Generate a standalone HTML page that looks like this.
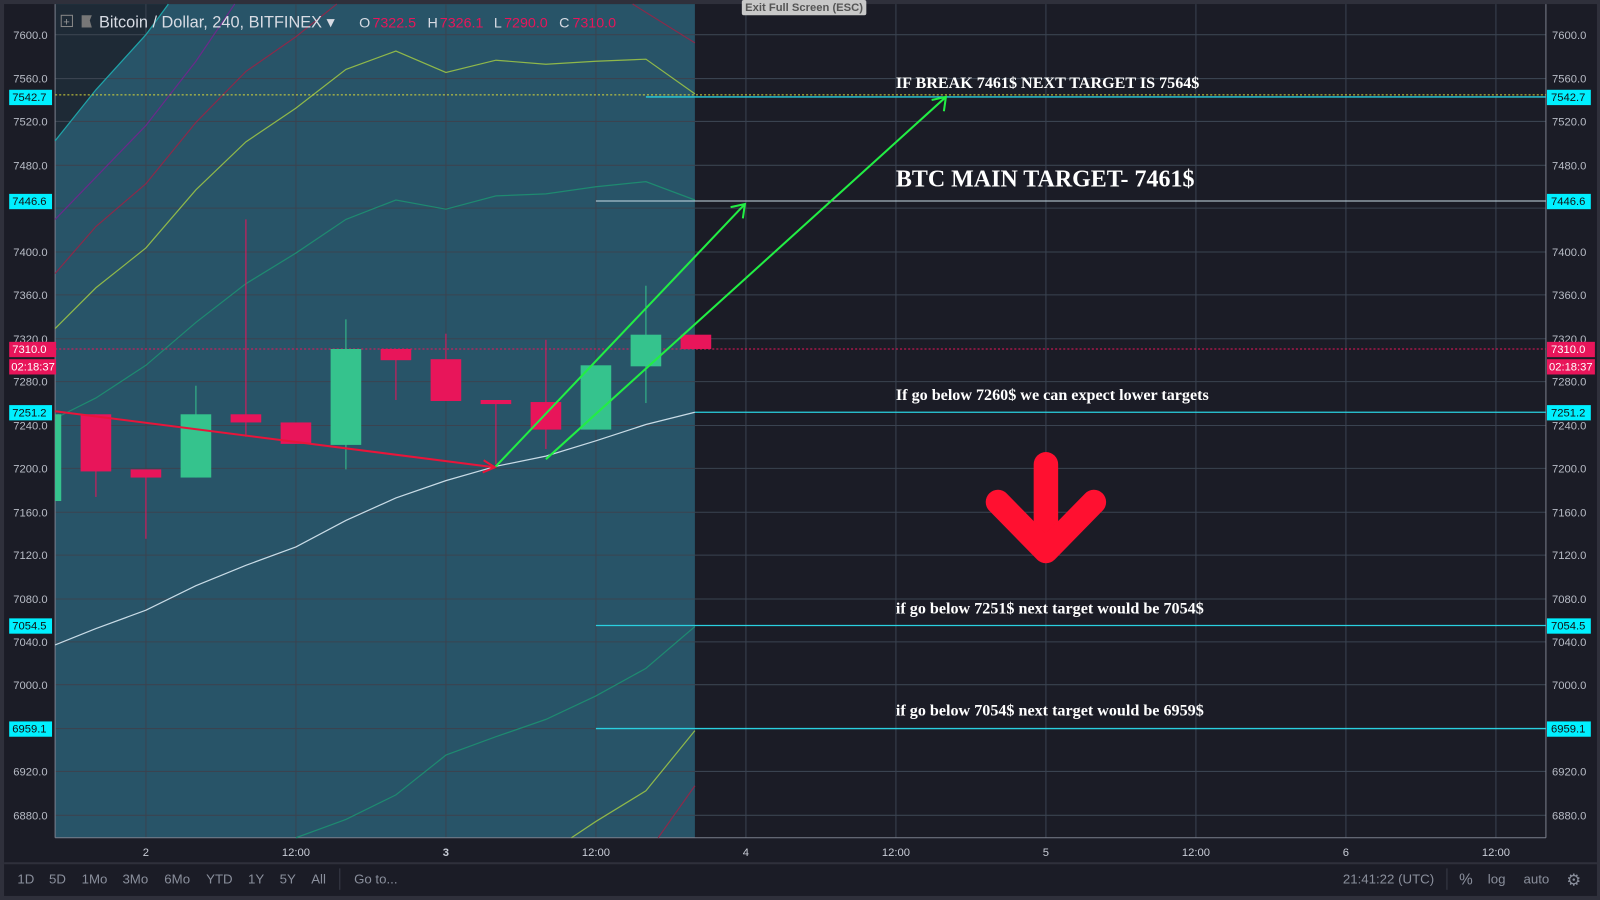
<!DOCTYPE html>
<html><head><style>
html,body{margin:0;padding:0;background:#2a2b36;width:1600px;height:900px;overflow:hidden}
svg{display:block}
text{font-family:"Liberation Sans",sans-serif}
.s{font-family:"Liberation Serif",serif;font-weight:bold;fill:#fff}
</style></head><body>
<svg width="1600" height="900" viewBox="0 0 1568 882" preserveAspectRatio="none" xmlns="http://www.w3.org/2000/svg">
<rect x="0" y="0" width="1568" height="882" fill="#2f303b"/>
<rect x="4" y="4" width="1561" height="874" fill="#1b1c26"/>
<rect x="54" y="4" width="627" height="817" fill="#285468"/>
<polygon points="54,138 94,88 143,34 165,4 54,4" fill="#1e2a36"/>
<g stroke="#3a4350" stroke-width="1">
<line x1="54" x2="1515" y1="34" y2="34"/><line x1="54" x2="1515" y1="77" y2="77"/><line x1="54" x2="1515" y1="119" y2="119"/><line x1="54" x2="1515" y1="162" y2="162"/><line x1="54" x2="1515" y1="204" y2="204"/><line x1="54" x2="1515" y1="247" y2="247"/><line x1="54" x2="1515" y1="289" y2="289"/><line x1="54" x2="1515" y1="332" y2="332"/><line x1="54" x2="1515" y1="374" y2="374"/><line x1="54" x2="1515" y1="417" y2="417"/><line x1="54" x2="1515" y1="459" y2="459"/><line x1="54" x2="1515" y1="502" y2="502"/><line x1="54" x2="1515" y1="544" y2="544"/><line x1="54" x2="1515" y1="587" y2="587"/><line x1="54" x2="1515" y1="629" y2="629"/><line x1="54" x2="1515" y1="671" y2="671"/><line x1="54" x2="1515" y1="714" y2="714"/><line x1="54" x2="1515" y1="756" y2="756"/><line x1="54" x2="1515" y1="799" y2="799"/>
<line y1="4" y2="821" x1="143" x2="143"/><line y1="4" y2="821" x1="290" x2="290"/><line y1="4" y2="821" x1="437" x2="437"/><line y1="4" y2="821" x1="584" x2="584"/><line y1="4" y2="821" x1="731" x2="731"/><line y1="4" y2="821" x1="878" x2="878"/><line y1="4" y2="821" x1="1025" x2="1025"/><line y1="4" y2="821" x1="1172" x2="1172"/><line y1="4" y2="821" x1="1319" x2="1319"/><line y1="4" y2="821" x1="1466" x2="1466"/>
</g>
<line x1="54" x2="1515" y1="821" y2="821" stroke="#7a7f8c"/>
<line x1="54" x2="54" y1="4" y2="821" stroke="#7a7f8c"/>
<line x1="1515" x2="1515" y1="4" y2="821" stroke="#7a7f8c"/>
<g fill="none" stroke-width="1.2">
<polyline stroke="#1fa3a8" points="54,138 94,88 143,34 165,4"/>
<polyline stroke="#6a2a8a" points="54,215 143,123 192,60 230,4"/>
<polyline stroke="#8a2a4a" points="54,268 94,222 143,180 192,120 241,70 290,36 330,4"/>
<polyline stroke="#8a2a4a" points="620,4 681,42"/>
<polyline stroke="#8fb84a" points="54,322 94,282 143,243 192,186 241,139 290,106 339,68 388,50 437,71 486,59 535,63 584,60 633,58 681,92"/>
<polyline stroke="#1e8a70" points="54,410 94,390 143,358 192,316 241,278 290,248 339,215 388,196 437,205 486,192 535,190 584,183 633,178 681,196"/>
<polyline stroke="#1e8a70" points="290,821 339,803 388,779 437,740 486,722 535,705 584,682 633,655 681,614"/>
<polyline stroke="#8fb84a" points="560,821 584,805 633,775 681,716"/>
<polyline stroke="#8a2a4a" points="645,821 681,770"/>
<polyline stroke="#c8dbe6" points="54,632 94,616 143,598 192,574 241,554 290,536 339,510 388,488 437,471 486,457 535,447 584,432 633,416 681,404"/>
</g>
<line x1="54" x2="1515" y1="93" y2="93" stroke="#d6d63a" stroke-dasharray="2,2"/>
<line x1="633" x2="1515" y1="95" y2="95" stroke="#2ad0e0" stroke-width="1.3"/>
<line x1="584" x2="1515" y1="197" y2="197" stroke="#c8dbe6"/>
<line x1="54" x2="1515" y1="342" y2="342" stroke="#e8155a" stroke-dasharray="2,2"/>
<line x1="681" x2="1515" y1="404" y2="404" stroke="#2ad0e0" stroke-width="1.3"/>
<line x1="584" x2="1515" y1="613" y2="613" stroke="#2ad0e0" stroke-width="1.3"/>
<line x1="584" x2="1515" y1="714" y2="714" stroke="#2ad0e0" stroke-width="1.3"/>
<g stroke-width="1">
<line x1="57" x2="57" y1="406" y2="491" stroke="#35c38d"/><rect x="54" y="406" width="6" height="85" fill="#35c38d"/>
<line x1="94" x2="94" y1="406" y2="487" stroke="#e8155a"/><rect x="79" y="406" width="30" height="56" fill="#e8155a"/>
<line x1="143" x2="143" y1="460" y2="528" stroke="#e8155a"/><rect x="128" y="460" width="30" height="8" fill="#e8155a"/>
<line x1="192" x2="192" y1="378" y2="468" stroke="#35c38d"/><rect x="177" y="406" width="30" height="62" fill="#35c38d"/>
<line x1="241" x2="241" y1="215" y2="428" stroke="#e8155a"/><rect x="226" y="406" width="30" height="8" fill="#e8155a"/>
<rect x="275" y="414" width="30" height="21" fill="#e8155a"/>
<line x1="339" x2="339" y1="313" y2="460" stroke="#35c38d"/><rect x="324" y="342" width="30" height="94" fill="#35c38d"/>
<line x1="388" x2="388" y1="342" y2="392" stroke="#e8155a"/><rect x="373" y="342" width="30" height="11" fill="#e8155a"/>
<line x1="437" x2="437" y1="327" y2="393" stroke="#e8155a"/><rect x="422" y="352" width="30" height="41" fill="#e8155a"/>
<line x1="486" x2="486" y1="392" y2="455" stroke="#e8155a"/><rect x="471" y="392" width="30" height="4" fill="#e8155a"/>
<line x1="535" x2="535" y1="333" y2="440" stroke="#e8155a"/><rect x="520" y="394" width="30" height="27" fill="#e8155a"/>
<rect x="569" y="358" width="30" height="63" fill="#35c38d"/>
<line x1="633" x2="633" y1="280" y2="395" stroke="#35c38d"/><rect x="618" y="328" width="30" height="31" fill="#35c38d"/>
<rect x="667" y="328" width="30" height="14" fill="#e8155a"/>
</g>
<g stroke="#22ee44" stroke-width="2" fill="none">
<line x1="485" y1="458" x2="730" y2="200"/><polyline points="716,203 730,200 728,214"/>
<line x1="535" y1="450" x2="927" y2="95"/><polyline points="913,98 927,95 925,109"/>
</g>
<g stroke="#e8153a" stroke-width="2" fill="none">
<line x1="54" y1="403" x2="485" y2="458"/><polyline points="474,451 485,458 473,463"/>
</g>
<g stroke="#ff1030" stroke-width="24" stroke-linecap="round" stroke-linejoin="round" fill="none">
<line x1="1025" y1="455" x2="1025" y2="538"/><polyline points="978,492 1025,540 1072,492"/>
</g>
<text class="s" x="878" y="86" font-size="15.8">IF BREAK 7461$ NEXT TARGET IS 7564$</text>
<text class="s" x="878" y="183" font-size="23.5">BTC MAIN TARGET- 7461$</text>
<text class="s" x="878" y="392" font-size="15.8">If go below 7260$ we can expect lower targets</text>
<text class="s" x="878" y="601" font-size="15.8">if go below 7251$ next target would be 7054$</text>
<text class="s" x="878" y="701" font-size="15.8">if go below 7054$ next target would be 6959$</text>
<g font-size="11" fill="#b8bcc6">
<text x="13" y="38">7600.0</text><text x="13" y="81">7560.0</text><text x="13" y="123">7520.0</text><text x="13" y="166">7480.0</text><text x="13" y="251">7400.0</text><text x="13" y="293">7360.0</text><text x="13" y="336">7320.0</text><text x="13" y="378">7280.0</text><text x="13" y="421">7240.0</text><text x="13" y="463">7200.0</text><text x="13" y="506">7160.0</text><text x="13" y="548">7120.0</text><text x="13" y="591">7080.0</text><text x="13" y="633">7040.0</text><text x="13" y="675">7000.0</text><text x="13" y="760">6920.0</text><text x="13" y="803">6880.0</text>
<text x="1521" y="38">7600.0</text><text x="1521" y="81">7560.0</text><text x="1521" y="123">7520.0</text><text x="1521" y="166">7480.0</text><text x="1521" y="251">7400.0</text><text x="1521" y="293">7360.0</text><text x="1521" y="336">7320.0</text><text x="1521" y="378">7280.0</text><text x="1521" y="421">7240.0</text><text x="1521" y="463">7200.0</text><text x="1521" y="506">7160.0</text><text x="1521" y="548">7120.0</text><text x="1521" y="591">7080.0</text><text x="1521" y="633">7040.0</text><text x="1521" y="675">7000.0</text><text x="1521" y="760">6920.0</text><text x="1521" y="803">6880.0</text>
</g>
<g font-size="11">
<rect x="9" y="88" width="42" height="15" fill="#00f0ff"/><text x="12" y="99" fill="#111">7542.7</text>
<rect x="9" y="190" width="42" height="15" fill="#00f0ff"/><text x="12" y="201" fill="#111">7446.6</text>
<rect x="9" y="335" width="46" height="15" fill="#e8155a"/><text x="12" y="346" fill="#fff">7310.0</text>
<rect x="9" y="352" width="46" height="15" fill="#e8155a"/><text x="11" y="363" fill="#fff">02:18:37</text>
<rect x="9" y="397" width="42" height="15" fill="#00f0ff"/><text x="12" y="408" fill="#111">7251.2</text>
<rect x="9" y="606" width="42" height="15" fill="#00f0ff"/><text x="12" y="617" fill="#111">7054.5</text>
<rect x="9" y="707" width="42" height="15" fill="#00f0ff"/><text x="12" y="718" fill="#111">6959.1</text>
<rect x="1516" y="88" width="43" height="15" fill="#00f0ff"/><text x="1520" y="99" fill="#111">7542.7</text>
<rect x="1516" y="190" width="43" height="15" fill="#00f0ff"/><text x="1520" y="201" fill="#111">7446.6</text>
<rect x="1516" y="335" width="47" height="15" fill="#e8155a"/><text x="1520" y="346" fill="#fff">7310.0</text>
<rect x="1516" y="352" width="47" height="15" fill="#e8155a"/><text x="1518" y="363" fill="#fff">02:18:37</text>
<rect x="1516" y="397" width="43" height="15" fill="#00f0ff"/><text x="1520" y="408" fill="#111">7251.2</text>
<rect x="1516" y="606" width="43" height="15" fill="#00f0ff"/><text x="1520" y="617" fill="#111">7054.5</text>
<rect x="1516" y="707" width="43" height="15" fill="#00f0ff"/><text x="1520" y="718" fill="#111">6959.1</text>
</g>
<g font-size="11" fill="#c8ccd6" text-anchor="middle">
<text x="143" y="839">2</text><text x="290" y="839">12:00</text><text x="437" y="839" font-weight="bold">3</text><text x="584" y="839">12:00</text><text x="731" y="839">4</text><text x="878" y="839">12:00</text><text x="1025" y="839">5</text><text x="1172" y="839">12:00</text><text x="1319" y="839">6</text><text x="1466" y="839">12:00</text>
</g>
<line x1="4" x2="1565" y1="846" y2="846" stroke="#2f303b" stroke-width="2"/>
<g font-size="13" fill="#8a8f9c">
<text x="17" y="866">1D</text><text x="48" y="866">5D</text><text x="80" y="866">1Mo</text><text x="120" y="866">3Mo</text><text x="161" y="866">6Mo</text><text x="202" y="866">YTD</text><text x="243" y="866">1Y</text><text x="274" y="866">5Y</text><text x="305" y="866">All</text><text x="347" y="866">Go to...</text>
<text x="1316" y="866">21:41:22 (UTC)</text><text x="1430" y="867" font-size="15">%</text><text x="1458" y="866">log</text><text x="1493" y="866">auto</text><text x="1535" y="868" font-size="16">⚙</text>
</g>
<line x1="333" x2="333" y1="851" y2="872" stroke="#3a3c48"/>
<line x1="1418" x2="1418" y1="851" y2="872" stroke="#3a3c48"/>
<rect x="60" y="15" width="11" height="11" fill="none" stroke="#888"/><text x="62" y="25" font-size="11" fill="#999">+</text>
<polygon points="80,15 90,15 88,20 90,27 80,27" fill="#777"/>
<text x="97" y="27" font-size="16" fill="#d8dce4">Bitcoin / Dollar, 240, BITFINEX ▾</text>
<g font-size="14" fill="#d8dce4">
<text x="352" y="27">O</text><text x="365" y="27" fill="#e8155a">7322.5</text>
<text x="419" y="27">H</text><text x="431" y="27" fill="#e8155a">7326.1</text>
<text x="484" y="27">L</text><text x="494" y="27" fill="#e8155a">7290.0</text>
<text x="548" y="27">C</text><text x="561" y="27" fill="#e8155a">7310.0</text>
</g>
<rect x="727" y="0" width="122" height="15" rx="2" fill="#c8c8c8"/>
<text x="788" y="11" font-size="11" fill="#555" text-anchor="middle" font-weight="bold">Exit Full Screen (ESC)</text>
</svg>
</body></html>
